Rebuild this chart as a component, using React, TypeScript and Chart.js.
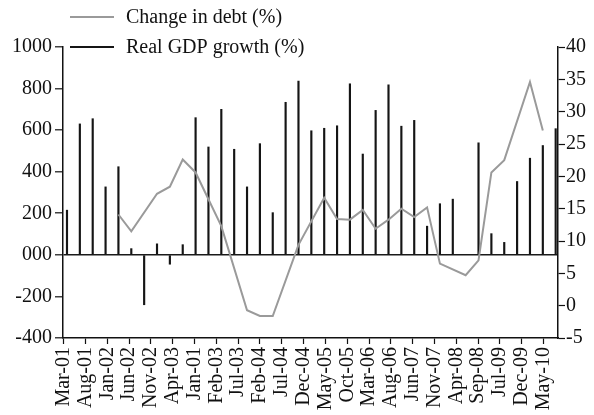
import React, { useEffect, useRef } from "react";
import { Chart, registerables } from "chart.js";

Chart.register(...registerables);

// Quarterly observations (39 quarters)
const quarters: string[] = [
  "Q1-01", "Q2-01", "Q3-01", "Q4-01", "Q1-02", "Q2-02", "Q3-02", "Q4-02",
  "Q1-03", "Q2-03", "Q3-03", "Q4-03", "Q1-04", "Q2-04", "Q3-04", "Q4-04",
  "Q1-05", "Q2-05", "Q3-05", "Q4-05", "Q1-06", "Q2-06", "Q3-06", "Q4-06",
  "Q1-07", "Q2-07", "Q3-07", "Q4-07", "Q1-08", "Q2-08", "Q3-08", "Q4-08",
  "Q1-09", "Q2-09", "Q3-09", "Q4-09", "Q1-10", "Q2-10", "Q3-10",
];

// Real GDP growth (%) – bars, left axis
const gdpGrowth: (number | null)[] = [
  215, 630, 655, 327, 424, 30, -240, 53, -45, 49,
  660, 519, 700, 508, 327, 535, 203, 734, 836, 597,
  609, 621, 823, 485, 695, 818, 619, 647, 138, 246,
  268, null, 539, 102, 60, 353, 465, 526, 607,
];

// Change in debt (%) – line, right axis
const debtChange: (number | null)[] = [
  null, null, null, null, 14.1, 11.5, null, 17.3, 18.4, 22.6,
  20.6, null, 12.3, null, -0.7, -1.6, -1.6, null, 9.4, null,
  16.7, 13.4, 13.3, 14.8, 11.9, 13.3, 15.0, 13.7, 15.2, 6.5,
  null, 4.7, 7.0, 20.6, 22.5, null, 34.6, 27.1, null,
];

// Bottom axis tick labels
const tickLabels: string[] = [
  "Mar-01", "Aug-01", "Jan-02", "Jun-02", "Nov-02", "Apr-03", "Jan-01",
  "Feb-03", "Jul-03", "Feb-04", "Jul-04", "Dec-04", "May-05", "Oct-05",
  "Mar-06", "Aug-06", "Jun-07", "Nov-07", "Apr-08", "Sep-08", "Jul-09",
  "Dec-09", "May-10",
];

const leftTicks = { min: -400, max: 1000, step: 200 };
const rightTicks = { min: -5, max: 40, step: 5 };

const FONT = "'Liberation Serif', 'Times New Roman', serif";
const TEXT = "#111";
const LINE_GRAY = "#9a9a9a";
const BAR_BLACK = "#151515";

const legendPlugin = {
  id: "customLegend",
  afterDraw(chart: any) {
    const ctx = chart.ctx;
    const ds = chart.data.datasets;
    const rows = [17, 47];
    ctx.save();
    ds.forEach((d: any, i: number) => {
      const y = rows[i];
      ctx.beginPath();
      ctx.strokeStyle = d.legendColor;
      ctx.lineWidth = 2;
      ctx.moveTo(70, y);
      ctx.lineTo(114, y);
      ctx.stroke();
      ctx.fillStyle = TEXT;
      ctx.font = `20px ${FONT}`;
      ctx.textAlign = "left";
      ctx.textBaseline = "middle";
      ctx.fillText(d.label, 126, y + 1);
    });
    ctx.restore();
  },
};

export default function App() {
  const ref = useRef<HTMLCanvasElement | null>(null);

  useEffect(() => {
    if (!ref.current) return;
    const chart = new Chart(ref.current, {
      type: "bar",
      data: {
        datasets: [
          {
            type: "line",
            label: "Change in debt (%)",
            data: quarters.map((_, i) => ({ x: i, y: debtChange[i] })) as any,
            borderColor: LINE_GRAY,
            borderWidth: 2,
            pointRadius: 0,
            tension: 0,
            spanGaps: true,
            xAxisID: "x",
            yAxisID: "y1",
            legendColor: LINE_GRAY,
          } as any,
          {
            type: "bar",
            label: "Real GDP growth (%)",
            data: quarters.map((_, i) => ({ x: i, y: gdpGrowth[i] })) as any,
            backgroundColor: BAR_BLACK,
            borderWidth: 0,
            barThickness: 1.5,
            xAxisID: "x",
            yAxisID: "y",
            legendColor: BAR_BLACK,
          } as any,
        ],
      },
      options: {
        animation: false,
        responsive: false,
        devicePixelRatio: 1,
        layout: { padding: { top: 47, left: 0, right: 0, bottom: 0 } },
        plugins: {
          legend: { display: false },
          tooltip: { enabled: false },
        },
        scales: {
          x: {
            type: "linear",
            display: false,
            offset: false,
            min: -0.31,
            max: 38.18,
          },
          x2: {
            type: "linear",
            position: "bottom",
            offset: false,
            min: -0.03,
            max: 22.66,
            afterBuildTicks: (scale: any) => {
              scale.ticks = tickLabels.map((_, i) => ({ value: i }));
            },
            afterFit: (scale: any) => {
              scale.height = 77;
            },
            border: { display: true, color: TEXT, width: 1.5 },
            grid: {
              offset: false,
              drawOnChartArea: false,
              drawTicks: true,
              tickLength: 6,
              tickColor: TEXT,
              tickWidth: 1.2,
            },
            ticks: {
              autoSkip: false,
              minRotation: 90,
              maxRotation: 90,
              padding: 3,
              color: TEXT,
              font: { family: FONT, size: 20 },
              callback: (v: any) => tickLabels[Math.round(Number(v))] ?? "",
            },
          },
          y: {
            type: "linear",
            position: "left",
            min: leftTicks.min,
            max: leftTicks.max,
            afterFit: (scale: any) => {
              scale.width = 63;
            },
            border: { display: true, color: TEXT, width: 1.5 },
            grid: {
              drawOnChartArea: true,
              drawTicks: true,
              tickLength: 8,
              tickColor: TEXT,
              tickWidth: 1.2,
              lineWidth: 1.6,
              color: (c: any) => (c.tick && c.tick.value === 0 ? "#1a1a1a" : "rgba(0,0,0,0)"),
            },
            ticks: {
              stepSize: leftTicks.step,
              padding: 3,
              color: TEXT,
              font: { family: FONT, size: 20 },
              callback: (v: any) => (Number(v) === 0 ? "000" : String(v)),
            },
          },
          y1: {
            type: "linear",
            position: "right",
            min: rightTicks.min,
            max: rightTicks.max,
            afterFit: (scale: any) => {
              scale.width = 36;
            },
            border: { display: true, color: TEXT, width: 1.5 },
            grid: {
              drawOnChartArea: false,
              drawTicks: true,
              tickLength: 7,
              tickColor: TEXT,
              tickWidth: 1.2,
            },
            ticks: {
              stepSize: rightTicks.step,
              padding: 1,
              color: TEXT,
              font: { family: FONT, size: 20 },
            },
          },
        },
      } as any,
      plugins: [legendPlugin],
    });
    return () => chart.destroy();
  }, []);

  return (
    <div style={{ position: "fixed", left: 0, top: 0, width: 594, height: 415, background: "#fff" }}>
      <canvas ref={ref} width={594} height={415} style={{ display: "block" }} />
    </div>
  );
}
